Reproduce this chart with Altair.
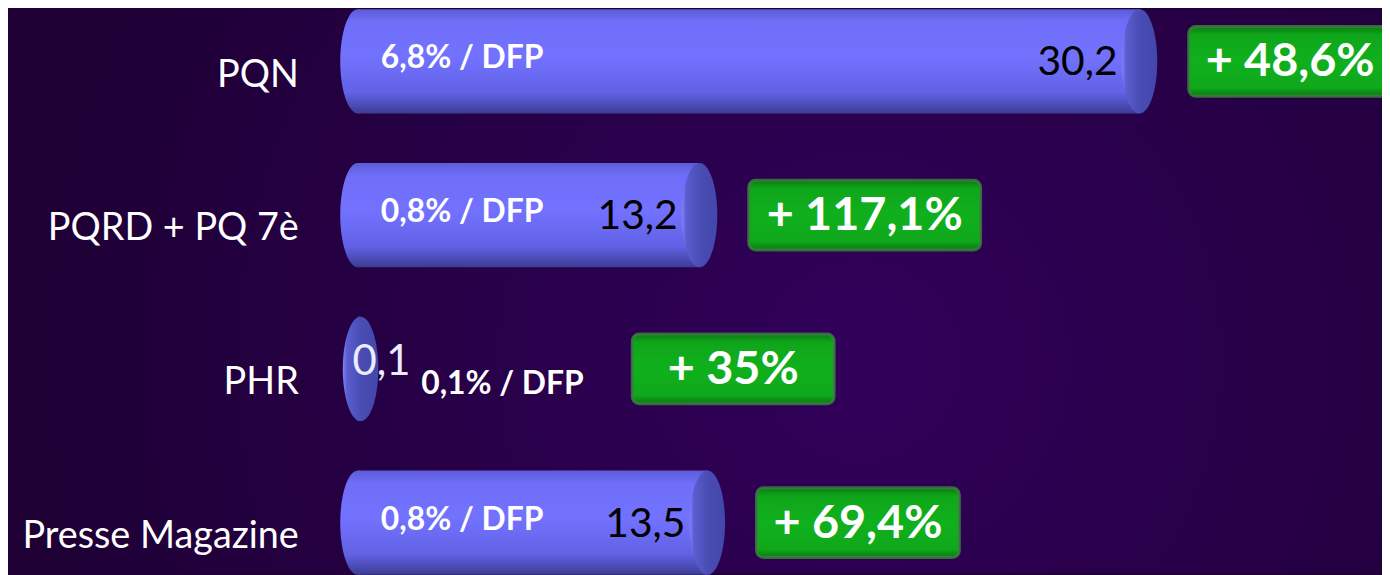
import altair as alt
import pandas as pd

categories = ["PQN", "PQRD + PQ 7è", "PHR", "Presse Magazine"]
values = [30.2, 13.2, 0.1, 13.5]
value_labels = ["30,2", "13,2", "0,1", "13,5"]
dfp_labels = ["6,8% / DFP", "0,8% / DFP", "0,1% / DFP", "0,8% / DFP"]
growth_labels = ["+ 48,6%", "+ 117,1%", "+ 35%", "+ 69,4%"]

df = pd.DataFrame({
    "cat": categories,
    "value": values,
    "vlabel": value_labels,
    "dfp": dfp_labels,
    "growth": growth_labels,
})

W, H = 1030, 567
FONT = "Lato"

xs = alt.Scale(domain=[0, 39.57], nice=False, zero=True)
ys = alt.Scale(type="point", domain=categories, range=[52, 516], padding=0)

base = alt.Chart(df).transform_calculate(
    zero="0",
    bx="datum.value >= 1 ? datum.value + 1.9 : datum.value + 10.5",
    bw="max(7.8, length(datum.growth) * 1.12)",
).transform_calculate(
    bx2="datum.bx + datum.bw", bmid="datum.bx + datum.bw / 2"
)

yaxis = alt.Axis(title=None, domain=False, ticks=False, grid=False,
                 labelColor="white", labelFont=FONT, labelFontSize=38,
                 labelPadding=60, labelOffset=14, labelAlign="right",
                 labelLimit=0, zindex=2)
Y = alt.Y("cat:N", scale=ys, axis=yaxis)


def X(field):
    return alt.X(field, scale=xs, axis=None)


bg = alt.Chart(pd.DataFrame({"a": [0]})).mark_rect(
    fill={"gradient": "radial", "x1": 0.62, "y1": 0.55, "r1": 0,
          "x2": 0.62, "y2": 0.55, "r2": 0.6,
          "stops": [{"offset": 0, "color": "#31005a"},
                    {"offset": 1, "color": "#1e0035"}]}
).encode(x=alt.value(-352), x2=alt.value(W), y=alt.value(0), y2=alt.value(H))

bar_grad = {"gradient": "linear", "x1": 0, "y1": 0, "x2": 0, "y2": 1,
            "stops": [{"offset": 0, "color": "#5c5cd8"},
                      {"offset": 0.12, "color": "#6e6ef8"},
                      {"offset": 0.45, "color": "#7272ff"},
                      {"offset": 0.8, "color": "#6262e6"},
                      {"offset": 1, "color": "#3c3c94"}]}

ELLIPSE = ("M0,-1 C0.188,-1 0.34,-0.552 0.34,0 C0.34,0.552 0.188,1 0,1 "
           "C-0.188,1 -0.34,0.552 -0.34,0 C-0.34,-0.552 -0.188,-1 0,-1 Z")

left_cap = base.transform_filter("datum.value >= 1").mark_point(
    shape=ELLIPSE, size=11025, filled=True, opacity=1, fill=bar_grad, strokeWidth=0
).encode(x=X("zero:Q"), y=Y)

bars = base.mark_bar(size=105, fill=bar_grad).encode(x=X("value:Q"), y=Y)

cap_grad = {"gradient": "linear", "x1": 0, "y1": 0, "x2": 1, "y2": 0,
            "stops": [{"offset": 0, "color": "#8484ff"},
                      {"offset": 0.12, "color": "#5a5ed0"},
                      {"offset": 0.5, "color": "#494db4"},
                      {"offset": 1, "color": "#4347aa"}]}
right_cap = base.mark_point(
    shape=ELLIPSE, size=11025, filled=True, opacity=1, fill=cap_grad, strokeWidth=0
).encode(x=X("value:Q"), y=Y)

dfp_big = base.transform_filter("datum.value >= 1").mark_text(
    align="left", baseline="middle", dx=23, dy=-3, font=FONT, fontWeight="bold",
    fontSize=32, color="white"
).encode(x=X("zero:Q"), y=Y, text="dfp:N")

val_big = base.transform_filter("datum.value >= 1").mark_text(
    align="right", baseline="middle", dx=-22, dy=2, font=FONT, fontSize=41,
    color="black"
).encode(x=X("value:Q"), y=Y, text="vlabel:N")

val_small = base.transform_filter("datum.value < 1").mark_text(
    align="left", baseline="middle", dx=-8, dy=-7, font=FONT, fontSize=42,
    color="#ececff"
).encode(x=X("value:Q"), y=Y, text="vlabel:N")

dfp_small = base.transform_filter("datum.value < 1").mark_text(
    align="left", baseline="middle", dx=61, dy=15, font=FONT, fontWeight="bold",
    fontSize=32, color="white"
).encode(x=X("value:Q"), y=Y, text="dfp:N")

badge_grad = {"gradient": "linear", "x1": 0, "y1": 0, "x2": 0, "y2": 1,
              "stops": [{"offset": 0, "color": "#0a7a12"},
                        {"offset": 0.12, "color": "#0fa61a"},
                        {"offset": 0.5, "color": "#10b01d"},
                        {"offset": 0.88, "color": "#0fa81b"},
                        {"offset": 1, "color": "#0a7a12"}]}
badges = base.mark_bar(
    size=70, cornerRadius=7, fill=badge_grad, stroke="#3f7f44",
    strokeWidth=3, strokeOpacity=0.8
).encode(x=X("bx:Q"), x2="bx2:Q", y=Y)

badge_text = base.mark_text(
    align="center", baseline="middle", dy=1, font=FONT, fontWeight="bold",
    fontSize=47, color="white"
).encode(x=X("bmid:Q"), y=Y, text="growth:N")

chart = alt.layer(
    bg, left_cap, bars, right_cap, dfp_big, val_big, val_small, dfp_small,
    badges, badge_text
).properties(
    width=W, height=H,
    padding={"left": 352, "top": 0, "right": 0, "bottom": 0},
    autosize=alt.AutoSizeParams(type="none"),
    background="#1e0035",
).configure_view(stroke=None)

chart.save("out.html", embed_options={"renderer": "svg", "actions": False})
